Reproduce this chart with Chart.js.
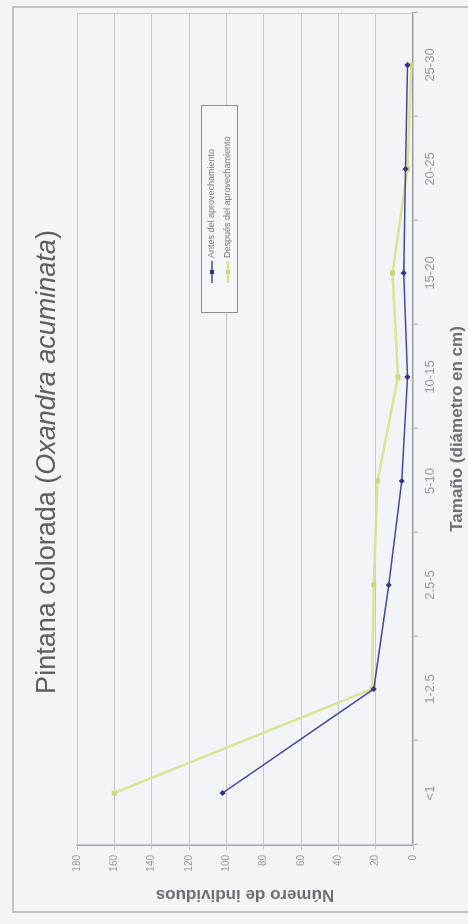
<!DOCTYPE html>
<html>
<head>
<meta charset="utf-8">
<script src="https://cdn.jsdelivr.net/npm/chart.js@4.4.1/dist/chart.umd.min.js"></script>
<style>
  html, body { margin: 0; padding: 0; width: 468px; height: 924px; overflow: hidden; background: #f2f4f8; }
  /* the chart is laid out landscape and turned a quarter turn onto the portrait page */
  #frame { position: absolute; left: 0; top: 0; width: 924px; height: 468px;
           transform-origin: 0 0; transform: translate(0px, 924px) rotate(-90deg); }
  canvas { display: block; }
</style>
</head>
<body>
<div id="frame"><canvas id="chart" width="924" height="468"></canvas></div>
<script>
// Diameter classes (cm)
const sizeClasses = ['<1', '1-2.5', '2.5-5', '5-10', '10-15', '15-20', '20-25', '25-30'];
// Number of trees per class
const antes   = [102, 21, 13, 6, 3, 5, 4, 3];
const despues = [160, 22, 21, 19, 8, 11, 3, 1];
// Value axis
const valueMin = 0;
const valueMax = 180;
const valueStep = 20;
const seriesNames = ['Antes del aprovechamiento', 'Después del aprovechamiento'];
const titleParts = [
  { text: 'Pintana colorada (', italic: false },
  { text: 'Oxandra acuminata', italic: true },
  { text: ')', italic: false }
];

const FONT = "'Liberation Sans', Arial, sans-serif";

const paperPlugin = {
  id: 'paper',
  beforeDraw(chart) {
    const ctx = chart.ctx;
    ctx.save();
    ctx.fillStyle = '#f2f4f8';
    ctx.fillRect(0, 0, chart.width, chart.height);
    ctx.strokeStyle = '#aeb1b7';
    ctx.lineWidth = 1.5;
    ctx.strokeRect(12, 13, 905, 480);
    ctx.restore();
  }
};

const plotFramePlugin = {
  id: 'plotFrame',
  beforeDatasetsDraw(chart) {
    const { ctx, chartArea: a } = chart;
    ctx.save();
    ctx.strokeStyle = '#c6c9cf';
    ctx.lineWidth = 1;
    ctx.strokeRect(a.left + 0.5, a.top + 0.5, a.right - a.left - 1, a.bottom - a.top);
    ctx.restore();
  }
};

const titlePlugin = {
  id: 'mixedTitle',
  afterDraw(chart) {
    const ctx = chart.ctx;
    ctx.save();
    const size = 27;
    const fonts = titleParts.map(p => (p.italic ? 'italic ' : '') + size + 'px ' + FONT);
    let total = 0;
    const widths = titleParts.map((p, i) => { ctx.font = fonts[i]; const w = ctx.measureText(p.text).width; total += w; return w; });
    let x = chart.width / 2 - total / 2;
    ctx.fillStyle = '#5c5e63';
    ctx.textBaseline = 'alphabetic';
    titleParts.forEach((p, i) => {
      ctx.font = fonts[i];
      ctx.fillText(p.text, x, 55);
      x += widths[i];
    });
    ctx.restore();
  }
};

const legendPlugin = {
  id: 'boxLegend',
  afterDraw(chart) {
    const { ctx, chartArea: a } = chart;
    const right = a.right - 92, top = a.top + 124;
    const w = 208, h = 37;
    const left = right - w;
    ctx.save();
    ctx.fillStyle = '#f4f6f9';
    ctx.fillRect(left, top, w, h);
    ctx.strokeStyle = '#8a8d94';
    ctx.lineWidth = 1;
    ctx.strokeRect(left + 0.5, top + 0.5, w - 1, h - 1);
    ctx.font = '9px ' + FONT;
    ctx.textBaseline = 'middle';
    chart.data.datasets.forEach((ds, i) => {
      const y = top + 11 + i * 16;
      ctx.strokeStyle = ds.borderColor;
      ctx.lineWidth = ds.borderWidth;
      ctx.beginPath();
      ctx.moveTo(left + 30, y);
      ctx.lineTo(left + 52, y);
      ctx.stroke();
      ctx.fillStyle = ds.pointBackgroundColor;
      ctx.fillRect(left + 39, y - 2, 4, 4);
      ctx.fillStyle = '#74767c';
      ctx.fillText(ds.label, left + 55, y);
    });
    ctx.restore();
  }
};

const valueTicks = [];
for (let v = valueMin; v <= valueMax; v += valueStep) valueTicks.push(v);

new Chart(document.getElementById('chart'), {
  type: 'line',
  data: {
    labels: sizeClasses,
    datasets: [
      {
        label: seriesNames[0],
        data: antes,
        borderColor: '#4649a0',
        backgroundColor: '#4649a0',
        pointBackgroundColor: '#33367f',
        pointBorderColor: '#33367f',
        borderWidth: 1.5,
        pointStyle: 'rectRot',
        pointRadius: 2,
        tension: 0,
        fill: false
      },
      {
        label: seriesNames[1],
        data: despues,
        borderColor: '#dbe394',
        backgroundColor: '#dbe394',
        pointBackgroundColor: '#cdd77e',
        pointBorderColor: '#cdd77e',
        borderWidth: 2.5,
        pointStyle: 'rect',
        pointRadius: 1.8,
        tension: 0,
        fill: false
      }
    ]
  },
  options: {
    responsive: false,
    animation: false,
    devicePixelRatio: 1,
    layout: { padding: { left: 0, right: 13, top: 77, bottom: 0 } },
    plugins: {
      legend: { display: false },
      title: { display: false },
      tooltip: { enabled: false }
    },
    scales: {
      x: {
        type: 'category',
        offset: true,
        grid: { display: true, drawOnChartArea: false, offset: true, tickLength: 5, color: '#a6a9af' },
        border: { display: true, color: '#95989e', width: 1.5 },
        ticks: { color: '#94979d', font: { family: FONT, size: 13 }, padding: 5, maxRotation: 0, autoSkip: false },
        title: { display: true, text: 'Tamaño (diámetro en cm)', color: '#6c6e74',
                 font: { family: FONT, size: 17, weight: 'bold' }, padding: { top: 0, bottom: 0 } },
        afterFit(scale) { scale.height = 55; }
      },
      y: {
        min: valueMin,
        max: valueMax,
        afterBuildTicks(scale) { scale.ticks = valueTicks.map(v => ({ value: v })); },
        grid: { color: '#c6c9cf', lineWidth: 1, tickLength: 5 },
        border: { display: true, color: '#a6a9af', width: 1.5 },
        ticks: { color: '#94979d', font: { family: FONT, size: 10 }, padding: 5 },
        title: { display: true, text: 'Número de individuos', color: '#6c6e74',
                 font: { family: FONT, size: 17, weight: 'bold' }, padding: { top: 19, bottom: 0 } },
        afterFit(scale) { scale.width = 79; }
      }
    }
  },
  plugins: [paperPlugin, plotFramePlugin, titlePlugin, legendPlugin]
});
</script>
</body>
</html>
